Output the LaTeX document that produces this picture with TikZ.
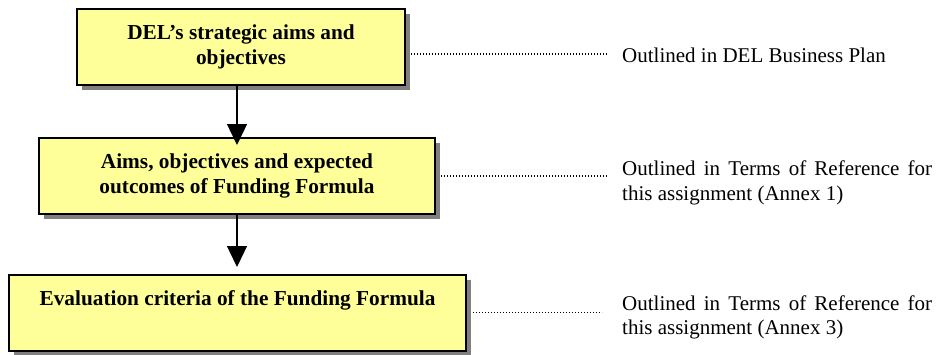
\documentclass[tikz,border=0pt]{standalone}
\usepackage{fontspec}
\setmainfont{Liberation Serif}
\usetikzlibrary{arrows.meta,shadows}
\definecolor{boxfill}{HTML}{FFFF99}
\definecolor{shadowgray}{HTML}{808080}
\tikzset{
  yellowbox/.style={draw=black, line width=1.6pt, fill=boxfill, inner sep=0pt,
    align=center, font=\bfseries\fontsize{21.3}{25}\selectfont,
    drop shadow={shadow xshift=5pt, shadow yshift=-5pt, fill=shadowgray, opacity=1}},
  boldtext/.style={inner sep=0pt, font=\bfseries\fontsize{21.3}{25}\selectfont},
  flowarrow/.style={line width=1.3pt, -{Triangle[width=20pt,length=21pt]}},
  dotline/.style={line width=1.2pt, dash pattern=on 1.1pt off 1.9pt},
  note/.style={inner sep=0pt, anchor=north west, text width=310pt, align=justify,
    font=\fontsize{21}{24.5}\selectfont}
}
\begin{document}
\begin{tikzpicture}[x=1pt,y=-1pt]
\useasboundingbox (0,0) rectangle (938,354);
% boxes
\node[yellowbox, minimum width=328pt, minimum height=76pt] (b1) at (241,47) {DEL’s strategic aims and\\objectives};
\node[yellowbox, minimum width=396pt, minimum height=76pt] (b2) at (237,176) {Aims, objectives and expected\\outcomes of Funding Formula};
\node[yellowbox, minimum width=457pt, minimum height=76pt] (b3) at (237.5,313) {};
\node[boldtext, anchor=base] (t3) at (237.5,305) {Evaluation criteria of the Funding Formula};
% arrows
\coordinate (a1) at (237,145);
\coordinate (a2) at (237,267);
\draw[flowarrow] (b1.south -| a1) -- (a1);
\draw[flowarrow] (b2.south -| a2) -- (a2);
% notes
\node[note] (n1) at (622,47.5) {Outlined in DEL Business Plan};
\node[note] (n2) at (622,161) {Outlined in Terms of Reference for this assignment (Annex 1)};
\node[note] (n3) at (622,295.5) {Outlined in Terms of Reference for this assignment (Annex 3)};
% dotted leaders
\coordinate (s1) at (411,54);
\coordinate (e1) at (607,54);
\coordinate (s2) at (441,176);
\coordinate (e2) at (608,176);
\coordinate (s3) at (473,312.5);
\coordinate (e3) at (602,312.5);
\draw[dotline] (s1) -- (e1);
\draw[dotline] (s2) -- (e2);
\draw[dotline] (s3) -- (e3);
\end{tikzpicture}
\end{document}
